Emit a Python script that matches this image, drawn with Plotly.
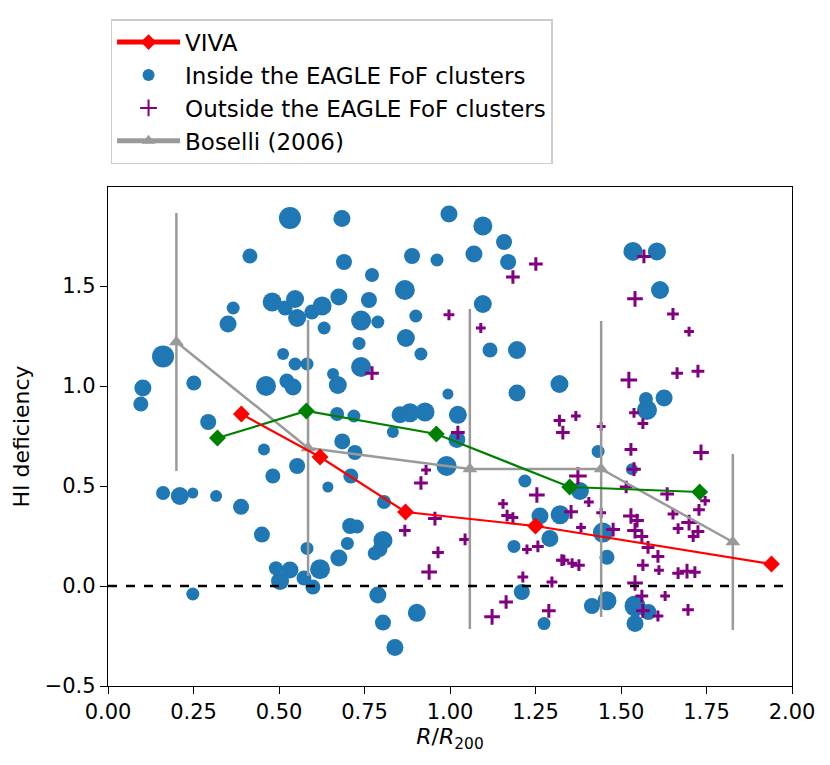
import plotly.graph_objects as go

# ---------------- data ---------------- #
viva_r = [0.39, 0.62, 0.87, 1.25, 1.94]
viva_def = [0.86, 0.645, 0.37, 0.30, 0.11]

green_r = [0.32, 0.58, 0.96, 1.35, 1.73]
green_def = [0.74, 0.875, 0.76, 0.495, 0.47]

boselli_r = [0.20, 0.585, 1.058, 1.442, 1.827]
boselli_def = [1.22, 0.69, 0.585, 0.585, 0.22]
boselli_err = [0.645, 0.64, 0.80, 0.74, 0.44]

# galaxies inside the FoF clusters (weight ~ marker scale)
inside_r = [0.532, 0.684, 0.415, 0.69, 0.48, 0.547, 0.518, 0.553, 0.596, 0.626,
            0.675, 0.366, 0.351, 0.632, 0.161, 0.512, 0.547, 0.582, 0.658, 0.102,
            0.251, 0.462, 0.523, 0.541, 0.672, 0.096, 0.293, 0.456, 0.482, 0.553,
            0.643, 0.161, 0.21, 0.248, 0.316, 0.389, 0.45, 0.582, 0.491, 0.532,
            0.503, 0.573, 0.62, 0.599, 0.248, 0.675, 0.685, 0.67, 0.997, 1.096,
            1.158, 0.889, 0.962, 1.07, 1.17, 0.772, 0.868, 0.763, 1.096, 0.9,
            0.74, 0.789, 0.734, 0.871, 0.915, 1.117, 1.196, 0.74, 0.994, 1.196,
            1.32, 0.719, 0.854, 0.883, 0.927, 1.023, 1.02, 0.833, 0.722, 0.99,
            0.71, 0.807, 0.708, 0.728, 0.70, 0.804, 0.795, 0.78, 0.789, 0.804,
            0.903, 0.839, 1.219, 1.263, 1.322, 1.292, 1.187, 1.21, 1.275, 1.535,
            1.605, 1.614, 1.573, 1.626, 1.576, 1.433, 1.532, 1.38, 1.447, 1.459,
            1.415, 1.459, 1.541, 1.58, 1.541]
inside_def = [1.84, 1.837, 1.65, 1.62, 1.42, 1.435, 1.39, 1.34, 1.37, 1.40,
              1.445, 1.39, 1.31, 1.29, 1.148, 1.16, 1.11, 1.11, 1.06, 0.99,
              1.015, 1.0, 1.025, 0.995, 1.005, 0.91, 0.82, 0.683, 0.55, 0.60,
              0.495, 0.465, 0.45, 0.465, 0.45, 0.396, 0.257, 0.188, 0.089, 0.08,
              0.025, 0.04, 0.084, -0.005, -0.04, 0.14, 0.723, 0.86, 1.86, 1.80,
              1.72, 1.65, 1.63, 1.66, 1.62, 1.555, 1.48, 1.43, 1.41, 1.35,
              1.327, 1.32, 1.213, 1.24, 1.16, 1.18, 1.18, 1.095, 0.96, 0.965,
              1.01, 0.85, 0.856, 0.866, 0.87, 0.856, 0.733, 0.77, 0.668, 0.60,
              0.55, 0.42, 0.30, 0.297, 0.213, 0.228, 0.183, 0.163, -0.045, -0.183,
              -0.134, -0.307, 0.525, 0.35, 0.356, 0.237, 0.198, -0.03, -0.188, 1.673,
              1.673, 1.48, 0.935, 0.94, 0.88, 0.673, 0.584, 0.475, 0.267, 0.144,
              -0.1, -0.074, -0.1, -0.13, -0.188]
inside_w = [2.2, 1.7, 1.5, 1.6, 1.9, 1.8, 1.5, 1.8, 1.5, 1.9,
            1.7, 1.3, 1.7, 1.3, 2.2, 1.2, 1.3, 1.3, 1.2, 1.7,
            1.5, 2.0, 1.5, 1.7, 1.8, 1.5, 1.6, 1.2, 1.5, 1.6,
            1.1, 1.4, 1.8, 1.1, 1.2, 1.6, 1.6, 1.3, 1.4, 1.7,
            1.8, 1.5, 2.0, 1.5, 1.3, 1.7, 1.6, 1.4, 1.7, 1.9,
            1.6, 1.6, 1.3, 1.7, 1.6, 1.4, 2.0, 1.6, 1.8, 1.3,
            2.0, 1.3, 1.3, 1.8, 1.3, 1.5, 1.8, 2.0, 1.1, 1.7,
            1.8, 1.3, 1.7, 1.9, 1.9, 1.8, 1.7, 1.2, 1.5, 2.0,
            1.5, 1.4, 1.6, 1.4, 1.3, 1.9, 1.5, 1.4, 1.7, 1.6,
            1.8, 1.7, 1.3, 1.7, 1.9, 1.7, 1.3, 1.6, 1.3, 1.9,
            1.8, 1.8, 1.4, 1.7, 2.0, 1.3, 1.2, 1.8, 2.0, 1.5,
            1.6, 1.9, 2.1, 1.6, 1.7]

# galaxies outside the FoF clusters
outside_r = [1.251, 1.184, 0.997, 1.09, 0.772, 1.023, 0.93, 0.915, 0.868, 0.956,
             1.044, 0.965, 0.939, 1.32, 1.33, 1.155, 1.167, 1.184, 1.254, 1.257,
             1.225, 1.327, 1.213, 1.298, 1.164, 1.123, 1.289, 1.567, 1.541, 1.652,
             1.699, 1.523, 1.664, 1.725, 1.538, 1.368, 1.442, 1.564, 1.529, 1.734,
             1.538, 1.374, 1.515, 1.635, 1.746, 1.406, 1.728, 1.354, 1.442, 1.529,
             1.547, 1.652, 1.699, 1.383, 1.477, 1.541, 1.561, 1.667, 1.725, 1.711,
             1.579, 1.608, 1.564, 1.333, 1.357, 1.377, 1.611, 1.667, 1.693, 1.716,
             1.541, 1.561, 1.629, 1.564, 1.608, 1.696]
outside_def = [1.61, 1.545, 1.356, 1.29, 1.064, 0.767, 0.58, 0.515, 0.277, 0.337,
               0.233, 0.168, 0.07, 0.827, 0.767, 0.411, 0.352, 0.342, 0.455, 0.198,
               0.183, 0.129, 0.045, 0.02, -0.08, -0.154, -0.124, 1.648, 1.436, 1.36,
               1.272, 1.03, 1.064, 1.074, 0.866, 0.85, 0.797, 0.812, 0.683, 0.668,
               0.584, 0.55, 0.495, 0.46, 0.426, 0.42, 0.381, 0.371, 0.366, 0.35,
               0.327, 0.36, 0.317, 0.292, 0.282, 0.277, 0.247, 0.287, 0.272, 0.247,
               0.193, 0.148, 0.104, 0.129, 0.114, 0.104, 0.079, 0.064, 0.074, 0.069,
               0.015, -0.05, -0.05, -0.124, -0.15, -0.119]
outside_w = [1.4, 1.4, 1.1, 1.0, 1.4, 1.4, 1.0, 1.4, 1.2, 1.4,
             1.2, 1.2, 1.6, 1.2, 1.4, 1.0, 1.2, 1.1, 1.6, 1.2,
             1.0, 1.2, 1.1, 1.1, 1.4, 1.6, 1.4, 1.4, 1.6, 1.2,
             1.0, 1.7, 1.2, 1.3, 1.0, 1.0, 0.9, 1.1, 1.3, 1.6,
             1.4, 1.8, 1.3, 1.4, 1.0, 1.0, 1.2, 1.4, 1.0, 1.6,
             1.4, 1.1, 1.6, 1.0, 1.4, 1.6, 1.3, 1.1, 1.3, 1.1,
             1.3, 1.3, 1.2, 1.1, 1.0, 1.2, 1.0, 1.2, 1.5, 1.2,
             1.6, 1.3, 1.0, 1.4, 1.1, 1.2]

x_ticks = [0.0, 0.25, 0.5, 0.75, 1.0, 1.25, 1.5, 1.75, 2.0]
y_ticks = [-0.5, 0.0, 0.5, 1.0, 1.5]

BLUE = '#1f77b4'
FONT = 'DejaVu Sans'

fig = go.Figure()

# scatter of simulated galaxies
fig.add_trace(go.Scatter(
    x=inside_r, y=inside_def, mode='markers', name='Inside the EAGLE FoF clusters',
    marker=dict(color=BLUE, size=[10 * w for w in inside_w], opacity=1,
                line=dict(width=0)),
    legendrank=2))
fig.add_trace(go.Scatter(
    x=outside_r, y=outside_def, mode='markers', name='Outside the EAGLE FoF clusters',
    marker=dict(symbol='cross-thin', color='purple', opacity=1,
                size=[7 * w for w in outside_w],
                line=dict(color='purple', width=3)),
    legendrank=3))

# zero line
fig.add_shape(type='line', xref='paper', x0=0, x1=1, yref='y', y0=0, y1=0,
              line=dict(color='black', width=2.5, dash='dash'))

# Boselli (2006) with error bars
fig.add_trace(go.Scatter(
    x=boselli_r, y=boselli_def, mode='lines+markers', name='Boselli (2006)',
    line=dict(color='#9a9a9a', width=2.5),
    marker=dict(symbol='triangle-up', size=13, color='#9a9a9a'),
    error_y=dict(type='data', array=boselli_err, color='#9a9a9a',
                 thickness=2.5, width=0),
    legendrank=4))

fig.add_trace(go.Scatter(
    x=green_r, y=green_def, mode='lines+markers', showlegend=False,
    line=dict(color='green', width=2.2),
    marker=dict(symbol='diamond', size=13, color='green')))

fig.add_trace(go.Scatter(
    x=viva_r, y=viva_def, mode='lines+markers', name='VIVA',
    line=dict(color='red', width=2.2),
    marker=dict(symbol='diamond', size=13, color='red'),
    legendrank=1))

axis_common = dict(showline=True, linecolor='black', linewidth=1.3, mirror=True,
                   ticks='outside', ticklen=7, tickwidth=1.3, tickcolor='black',
                   showgrid=False, zeroline=False,
                   tickfont=dict(family=FONT, size=21, color='black'))

fig.update_xaxes(range=[0, 2], tickvals=x_ticks,
                 ticktext=[f'{v:.2f}' for v in x_ticks],
                 title=dict(text='<i>R</i>/<i>R</i><sub>200</sub>',
                            font=dict(family=FONT, size=22, color='black'),
                            standoff=4),
                 **axis_common)
fig.update_yaxes(range=[-0.5, 1.995], tickvals=y_ticks,
                 ticktext=[f'{v:.1f}'.replace('-', '\u2212') for v in y_ticks],
                 title=dict(text='HI deficiency',
                            font=dict(family=FONT, size=22, color='black'),
                            standoff=8),
                 **axis_common)

fig.update_layout(
    width=822, height=757,
    margin=dict(l=100, r=38, t=172, b=79),
    plot_bgcolor='white', paper_bgcolor='white',
    font=dict(family=FONT, size=21, color='black'),
    legend=dict(x=0.004, y=1.336, xanchor='left', yanchor='top',
                bordercolor='#cccccc', borderwidth=1.3, bgcolor='white',
                itemsizing='constant', itemwidth=63,
                font=dict(family=FONT, size=23),
                tracegroupgap=0),
)

fig.write_html('out.html')
